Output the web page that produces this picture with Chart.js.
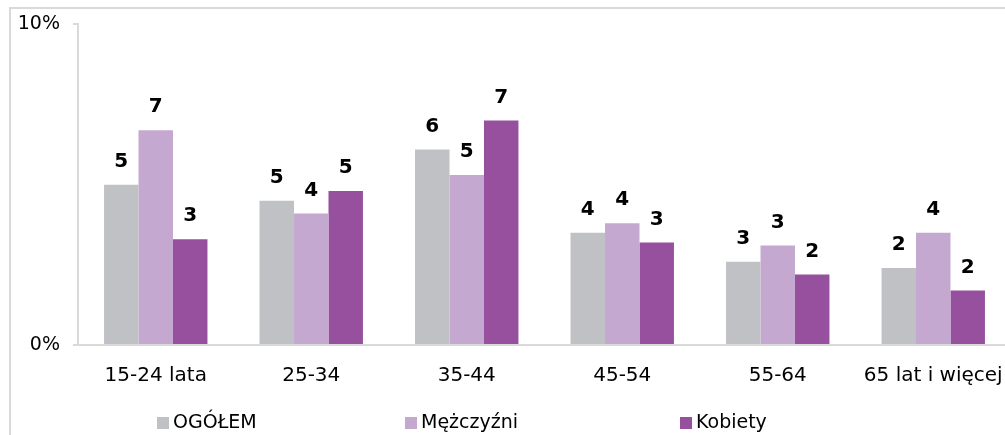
<!DOCTYPE html>
<html>
<head>
<meta charset="utf-8">
<script src="https://cdn.jsdelivr.net/npm/chart.js@4"></script>
<style>
html,body{margin:0;padding:0;background:#fff;overflow:hidden;}
canvas{display:block;}
</style>
</head>
<body>
<canvas id="chart" width="1020" height="435"></canvas>
<script>
// data (%)
const categories = ["15-24 lata","25-34","35-44","45-54","55-64","65 lat i więcej"];
const ogolem     = [5.0, 4.5, 6.1, 3.5, 2.6, 2.4];
const mezczyzni  = [6.7, 4.1, 5.3, 3.8, 3.1, 3.5];
const kobiety    = [3.3, 4.8, 7.0, 3.2, 2.2, 1.7];
const seriesNames = ["OGÓŁEM","Mężczyźni","Kobiety"];
const colors = ["#C0C1C4","#C4A8D0","#96509E"];
const yTicks = [0, 10];

const FONT = "'DejaVu Sans', Verdana, sans-serif";

// value labels above bars
const valueLabels = {
  id: "valueLabels",
  afterDatasetsDraw(chart) {
    const ctx = chart.ctx;
    ctx.save();
    ctx.font = "bold 20px " + FONT;
    ctx.fillStyle = "#000";
    ctx.textAlign = "center";
    ctx.textBaseline = "middle";
    chart.data.datasets.forEach((ds, i) => {
      chart.getDatasetMeta(i).data.forEach((bar, j) => {
        ctx.fillText(Math.round(ds.data[j]), bar.x, bar.y - 23);
      });
    });
    ctx.restore();
  }
};

// outer frame + legend
const frameLegend = {
  id: "frameLegend",
  beforeDraw(chart) {
    const ctx = chart.ctx;
    ctx.save();
    ctx.strokeStyle = "#D9D9D9";
    ctx.lineWidth = 2;
    ctx.beginPath();
    ctx.moveTo(10, 440);
    ctx.lineTo(10, 8);
    ctx.lineTo(1030, 8);
    ctx.stroke();
    ctx.restore();
  },
  afterDraw(chart) {
    const ctx = chart.ctx;
    const xs = [157, 405, 680];
    ctx.save();
    ctx.font = "19px " + FONT;
    ctx.textBaseline = "middle";
    ctx.textAlign = "left";
    chart.data.datasets.forEach((ds, i) => {
      ctx.fillStyle = ds.backgroundColor;
      ctx.fillRect(xs[i], 417, 12, 12);
      ctx.fillStyle = "#000";
      ctx.fillText(ds.label, xs[i] + 16, 423);
    });
    ctx.restore();
  }
};

new Chart(document.getElementById("chart"), {
  type: "bar",
  data: {
    labels: categories,
    datasets: [ogolem, mezczyzni, kobiety].map((d, i) => ({
      label: seriesNames[i],
      data: d,
      backgroundColor: colors[i],
      borderWidth: 0,
      barPercentage: 1,
      categoryPercentage: 0.665
    }))
  },
  options: {
    responsive: false,
    animation: false,
    events: [],
    layout: { padding: { top: 23, right: 9, left: 0, bottom: 0 } },
    plugins: { legend: { display: false }, tooltip: { enabled: false } },
    scales: {
      x: {
        grid: { display: false },
        border: { display: true, color: "#D9D9D9", width: 2 },
        ticks: { color: "#000", font: { family: FONT, size: 20 }, padding: 11, maxRotation: 0, autoSkip: false },
        afterFit(s) { s.height = 90; }
      },
      y: {
        min: 0, max: 10,
        afterBuildTicks(s) { s.ticks = yTicks.map(v => ({ value: v })); },
        grid: { drawOnChartArea: false, drawTicks: true, tickLength: 5, color: "#D9D9D9", lineWidth: 2 },
        border: { display: true, color: "#D9D9D9", width: 2 },
        ticks: { color: "#000", font: { family: FONT, size: 19 }, padding: 13, callback: v => v + "%" },
        afterFit(s) { s.width = 78; }
      }
    }
  },
  plugins: [valueLabels, frameLegend]
});
</script>
</body>
</html>
